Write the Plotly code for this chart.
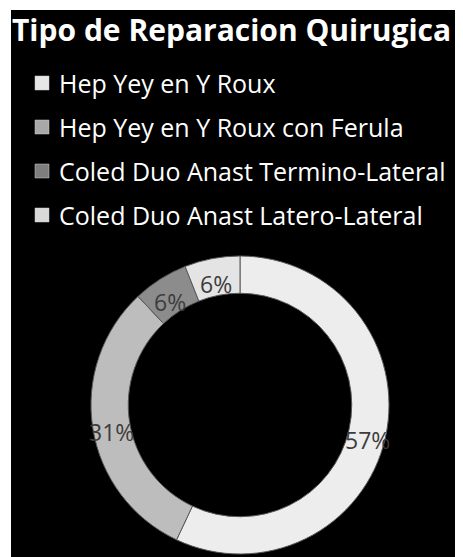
import math
import plotly.graph_objects as go

title_text = "Tipo de Reparacion Quirugica"
categories = ["Hep Yey en Y Roux", "Hep Yey en Y Roux con Ferula",
              "Coled Duo Anast Termino-Lateral", "Coled Duo Anast Latero-Lateral"]
percent_values = [57, 31, 6, 6]
slice_colors = ["#ededed", "#bdbdbd", "#8c8c8c", "#e4e4e4"]
legend_colors = ["#e6e6e6", "#a8a8a8", "#7e7e7e", "#d9d9d9"]

# page has an 8px body margin; figure fills the rest of the 463x557 window
W, H = 455, 549
FONT = "Open Sans"

# donut geometry (pixels in figure space)
CX, CY, R = 232, 397, 149
HOLE = 0.75

fig = go.Figure()
fig.add_trace(go.Pie(
    labels=categories,
    values=percent_values,
    sort=False,
    direction="clockwise",
    rotation=0,
    hole=HOLE,
    marker=dict(colors=slice_colors, line=dict(color="#5a5a5a", width=1)),
    textinfo="none",
    hoverinfo="label+percent",
    domain=dict(x=[(CX - R) / W, (CX + R) / W],
                y=[(H - CY - R) / H, (H - CY + R) / H]),
    showlegend=False,
))

annotations = [dict(
    text="<b>" + title_text + "</b>", xref="paper", yref="paper",
    x=3 / W, y=1, xanchor="left", yanchor="top", borderpad=0,
    showarrow=False, font=dict(family=FONT, size=30, color="white"),
)]

# percentage labels in the middle of the ring at each slice's mid-angle
total = sum(percent_values)
r_mid = R * (1 + HOLE) / 2
cum = 0
for v in percent_values:
    ang = 2 * math.pi * (cum + v / 2) / total
    cum += v
    px = CX + r_mid * math.sin(ang)
    py = CY - r_mid * math.cos(ang) + 7
    annotations.append(dict(
        text=f"{v}%", xref="paper", yref="paper", x=px / W, y=1 - py / H,
        xanchor="center", yanchor="middle", showarrow=False,
        font=dict(family=FONT, size=23, color="#3c3c3c"),
    ))

shapes = [
    dict(type="rect", xref="paper", yref="paper", x0=0, x1=3 / W,
         y0=0, y1=1, fillcolor="white", line=dict(width=0), layer="above"),
    dict(type="rect", xref="paper", yref="paper", x0=0, x1=1,
         y0=1 - 2 / H, y1=1, fillcolor="white", line=dict(width=0), layer="below"),
]

row0, step = 75, 44
for i, (name, col) in enumerate(zip(categories, legend_colors)):
    yc = row0 + i * step
    annotations.append(dict(
        text=name, xref="paper", yref="paper", x=49 / W, y=1 - yc / H,
        xanchor="left", yanchor="middle", showarrow=False,
        font=dict(family=FONT, size=25, color="white"),
    ))
    shapes.append(dict(
        type="rect", xref="paper", yref="paper",
        x0=27 / W, x1=41 / W, y0=1 - (yc + 7) / H, y1=1 - (yc - 7) / H,
        fillcolor=col, line=dict(color="#cfcfcf", width=0.5),
    ))

fig.update_layout(
    width=W, height=H,
    margin=dict(l=0, r=0, t=0, b=0),
    paper_bgcolor="black", plot_bgcolor="black",
    annotations=annotations, shapes=shapes,
)

fig.write_html("out.html")
